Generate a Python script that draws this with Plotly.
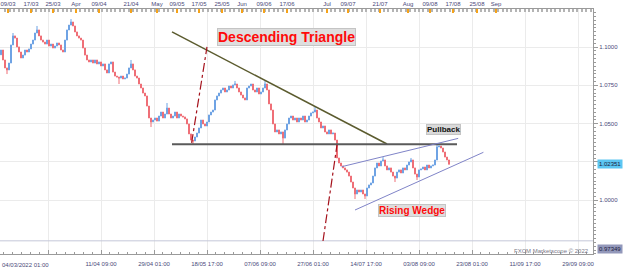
import plotly.graph_objects as go

# ---------------- data ----------------
first_open = 1.0950
closes = [
    1.0981, 1.0916, 1.0864, 1.0851, 1.0896, 1.1014, 1.1073, 1.1059, 1.1001, 1.0968,
    1.0929, 1.0948, 1.0981, 1.0968, 1.0988, 1.1020, 1.1046, 1.1092, 1.1112, 1.1073,
    1.1046, 1.1033, 1.1020, 1.1046, 1.1007, 1.1020, 1.0994, 1.1007, 1.1027, 1.1014,
    1.0981, 1.0968, 1.1046, 1.1112, 1.1144, 1.1164, 1.1138, 1.1099, 1.1073, 1.1059,
    1.1046, 1.0994, 1.0948, 1.0916, 1.0903, 1.0916, 1.0896, 1.0916, 1.0890, 1.0903,
    1.0877, 1.0890, 1.0851, 1.0831, 1.0890, 1.0903, 1.0837, 1.0811, 1.0805, 1.0798,
    1.0811, 1.0792, 1.0798, 1.0824, 1.0864, 1.0890, 1.0851, 1.0811, 1.0798, 1.0759,
    1.0733, 1.0700, 1.0681, 1.0615, 1.0537, 1.0511, 1.0524, 1.0537, 1.0517, 1.0550,
    1.0576, 1.0537, 1.0563, 1.0602, 1.0563, 1.0537, 1.0550, 1.0576, 1.0537, 1.0563,
    1.0550, 1.0544, 1.0531, 1.0498, 1.0433, 1.0393, 1.0387, 1.0413, 1.0439, 1.0472,
    1.0524, 1.0498, 1.0485, 1.0511, 1.0557, 1.0576, 1.0589, 1.0655, 1.0681, 1.0700,
    1.0720, 1.0733, 1.0707, 1.0720, 1.0746, 1.0733, 1.0753, 1.0759, 1.0733, 1.0707,
    1.0687, 1.0668, 1.0655, 1.0733, 1.0746, 1.0759, 1.0720, 1.0707, 1.0733, 1.0694,
    1.0707, 1.0733, 1.0759, 1.0720, 1.0629, 1.0589, 1.0498, 1.0446, 1.0459, 1.0433,
    1.0446, 1.0406, 1.0459, 1.0498, 1.0537, 1.0550, 1.0524, 1.0537, 1.0511, 1.0537,
    1.0524, 1.0550, 1.0511, 1.0524, 1.0550, 1.0570, 1.0576, 1.0589, 1.0537, 1.0511,
    1.0472, 1.0485, 1.0446, 1.0433, 1.0459, 1.0433, 1.0439, 1.0393, 1.0276, 1.0243,
    1.0224, 1.0211, 1.0198, 1.0184, 1.0158, 1.0119, 1.0080, 1.0041, 1.0067, 1.0054,
    1.0067, 1.0041, 1.0028, 1.0080, 1.0100, 1.0113, 1.0158, 1.0211, 1.0243, 1.0224,
    1.0256, 1.0263, 1.0224, 1.0198, 1.0211, 1.0184, 1.0158, 1.0145, 1.0184, 1.0198,
    1.0178, 1.0211, 1.0198, 1.0230, 1.0250, 1.0263, 1.0211, 1.0171, 1.0152, 1.0198,
    1.0204, 1.0217, 1.0198, 1.0230, 1.0211, 1.0224, 1.0230, 1.0263, 1.0348, 1.0354,
    1.0341, 1.0315, 1.0282, 1.0263, 1.02351,
]
# notable wick extremes (bar index -> price)
wick_highs = {6: 1.1092, 18: 1.1138, 35: 1.1183, 65: 1.0916, 83: 1.0635, 117: 1.0779,
              132: 1.0779, 157: 1.0609, 191: 1.0282, 205: 1.0276, 218: 1.0374}
wick_lows = {3: 1.0824, 59: 1.0759, 75: 1.0478, 96: 1.0361, 141: 1.0361, 177: 1.0008,
             182: 1.0008, 197: 1.0119, 208: 1.0132}

bottom_labels = ["", "11/04 09:00", "29/04 01:00", "18/05 17:00", "07/06 09:00", "27/06 01:00",
                 "14/07 17:00", "03/08 09:00", "23/08 01:00", "11/09 17:00", "29/09 09:00"]
first_label = "04/03/2022 01:00"
top_labels = ["09/03", "17/03", "25/03", "Apr", "09/04", "21/04", "May", "09/05", "17/05", "25/05",
              "Jun", "09/06", "17/06", "Jul", "09/07", "21/07", "Aug", "09/08", "17/08", "25/08", "Sep"]
price_ticks = [1.0000, 1.0250, 1.0500, 1.0750, 1.1000]
price_tick_text = ["1.0000", "", "1.0500", "1.0750", "1.1000"]
last_price = 1.02351
low_marker = 0.97349
support_level = 1.0365

# ---------------- layout positions (bar-index units) ----------------
bottom_pos = [23.5, 50, 76.5, 103, 129.5, 156, 182.5, 209, 235.5, 262, 288.5]
top_pos = [3.5, 15, 26, 37.5, 49, 65, 78, 88, 99, 110.5, 120.5, 131.5, 143, 163, 173.5,
           189.5, 203.5, 214.5, 226, 238, 247.5]

n = len(closes)
xs = list(range(n))
opens = [first_open] + closes[:-1]
highs = [max(o, c) for o, c in zip(opens, closes)]
lows = [min(o, c) for o, c in zip(opens, closes)]
for k, v in wick_highs.items():
    highs[k] = max(highs[k], v)
for k, v in wick_lows.items():
    lows[k] = min(lows[k], v)

AX = "#9a9a9a"
TXT = "#4a4a7a"
tfont = dict(family="Liberation Sans, Arial, sans-serif", size=6, color=TXT)

fig = go.Figure()
fig.add_trace(go.Candlestick(
    x=xs, open=opens, high=highs, low=lows, close=closes,
    increasing=dict(line=dict(color="#6fa3e4", width=1), fillcolor="#3479d3"),
    decreasing=dict(line=dict(color="#ef6f77", width=1), fillcolor="#e2222c"),
    hoverinfo="skip", showlegend=False))
fig.add_trace(go.Scatter(x=[-0.5, 296], y=[None, None], xaxis="x2", yaxis="y",
                         mode="lines", showlegend=False, hoverinfo="skip"))

y_lo, y_hi = 0.96490, 1.12488

shapes = [
    dict(type="line", xref="paper", yref="y", x0=0, x1=1, y0=low_marker, y1=low_marker,
         line=dict(color="#c4c7d8", width=1)),
    dict(type="line", xref="x", yref="y", x0=85.5, x1=193, y0=1.1099, y1=1.0367,
         line=dict(color="#5b5b2e", width=1.5)),
    dict(type="line", xref="x", yref="y", x0=85.5, x1=228, y0=support_level, y1=support_level,
         line=dict(color="#5a5a5a", width=2)),
    dict(type="line", xref="x", yref="y", x0=170.3, x1=228.6, y0=1.0219, y1=1.0404,
         line=dict(color="#8084c8", width=1)),
    dict(type="line", xref="x", yref="y", x0=177, x1=241.2, y0=0.99363, y1=1.03131,
         line=dict(color="#8084c8", width=1)),
    dict(type="line", xref="x", yref="y", x0=95.3, x1=103, y0=1.0374, y1=1.1001,
         line=dict(color="#a5121c", width=1.2, dash="dashdot")),
    dict(type="line", xref="x", yref="y", x0=161, x1=168, y0=0.9734, y1=1.0361,
         line=dict(color="#a5121c", width=1.2, dash="dashdot")),
]

annotations = [
    dict(x=142.5, y=1.1066, xref="x", yref="y", text="<b>Descending Triangle</b>", showarrow=False,
         font=dict(family="Liberation Sans, Arial", size=14, color="#ff0a0a"),
         bgcolor="#dedede", bordercolor="#c4c4c4", borderwidth=1, borderpad=0),
    dict(x=221, y=1.0465, xref="x", yref="y", text="<b>Pullback</b>", showarrow=False,
         font=dict(family="Liberation Sans, Arial", size=8, color="#111111"),
         bgcolor="#d9d9d9", bordercolor="#c4c4c4", borderwidth=1, borderpad=0),
    dict(x=205.5, y=0.9930, xref="x", yref="y", text="<b>Rising Wedge</b>", showarrow=False,
         font=dict(family="Liberation Sans, Arial", size=10, color="#ff0a0a"),
         bgcolor="#dedede", bordercolor="#c4c4c4", borderwidth=1, borderpad=0),
    dict(x=1, y=last_price, xref="paper", yref="y", xanchor="left", yanchor="middle", xshift=4,
         text=f"{last_price:.5f}",
         showarrow=False, font=dict(family="Liberation Sans, Arial", size=6, color="#1a1a40"),
         bgcolor="#5cc6f2", borderpad=1),
    dict(x=1, y=0.0204, xref="paper", yref="paper", xanchor="left", yanchor="middle", xshift=4,
         text=f"{low_marker:.5f}",
         showarrow=False, font=dict(family="Liberation Sans, Arial", size=6, color="#1a1a40"),
         bgcolor="#9398ba", borderpad=1),
    dict(x=1, y=0.0122, xref="paper", yref="paper", xanchor="right", yanchor="middle", xshift=-2,
         text="FXCM Marketscope © 2022", showarrow=False,
         font=dict(family="Liberation Sans, Arial", size=6, color="#7a7a8a")),
    dict(x=0, y=-0.045, xref="paper", yref="paper", xanchor="left", yanchor="middle",
         text=first_label, showarrow=False, font=tfont),
]

fig.update_layout(
    width=625, height=272,
    margin=dict(l=0, r=32, t=9, b=18, pad=0),
    paper_bgcolor="white", plot_bgcolor="white",
    showlegend=False, hovermode=False,
    shapes=shapes, annotations=annotations,
    xaxis=dict(range=[-0.5, 296], tickmode="array", tickvals=bottom_pos, ticktext=bottom_labels,
               showgrid=True, gridcolor="#ebebeb", gridwidth=1, zeroline=False,
               ticks="inside", ticklen=4, tickcolor=AX, showline=True, linecolor=AX, linewidth=1,
               tickfont=tfont, ticklabelstandoff=4, rangeslider=dict(visible=False), fixedrange=True,
               minor=dict(tickmode="linear", tick0=23.5, dtick=26.5 / 6, ticks="inside", ticklen=2,
                          tickcolor=AX, showgrid=False)),
    xaxis2=dict(overlaying="x", side="top", anchor="y", range=[-0.5, 296], tickmode="array",
                tickvals=top_pos, ticktext=top_labels, ticks="inside", ticklen=4, tickwidth=2,
                tickcolor="#f5a31a", showline=True, linecolor=AX, showgrid=False, zeroline=False,
                tickfont=tfont, fixedrange=True,
                minor=dict(tickmode="linear", tick0=0, dtick=2.2, ticks="inside", ticklen=3,
                           tickcolor="#b4b4b4", showgrid=False)),
    yaxis=dict(side="right", range=[y_lo, y_hi], tickmode="array", tickvals=price_ticks,
               ticktext=price_tick_text, showgrid=True, gridcolor="#ebebeb", zeroline=False,
               ticks="outside", ticklen=4, tickcolor=AX, showline=True, linecolor=AX,
               tickfont=tfont, fixedrange=True,
               minor=dict(tickmode="linear", tick0=1.0, dtick=0.0025, ticks="outside", ticklen=2,
                          tickcolor=AX, showgrid=False)),
)

fig.write_html("out.html", config={"displayModeBar": False})
